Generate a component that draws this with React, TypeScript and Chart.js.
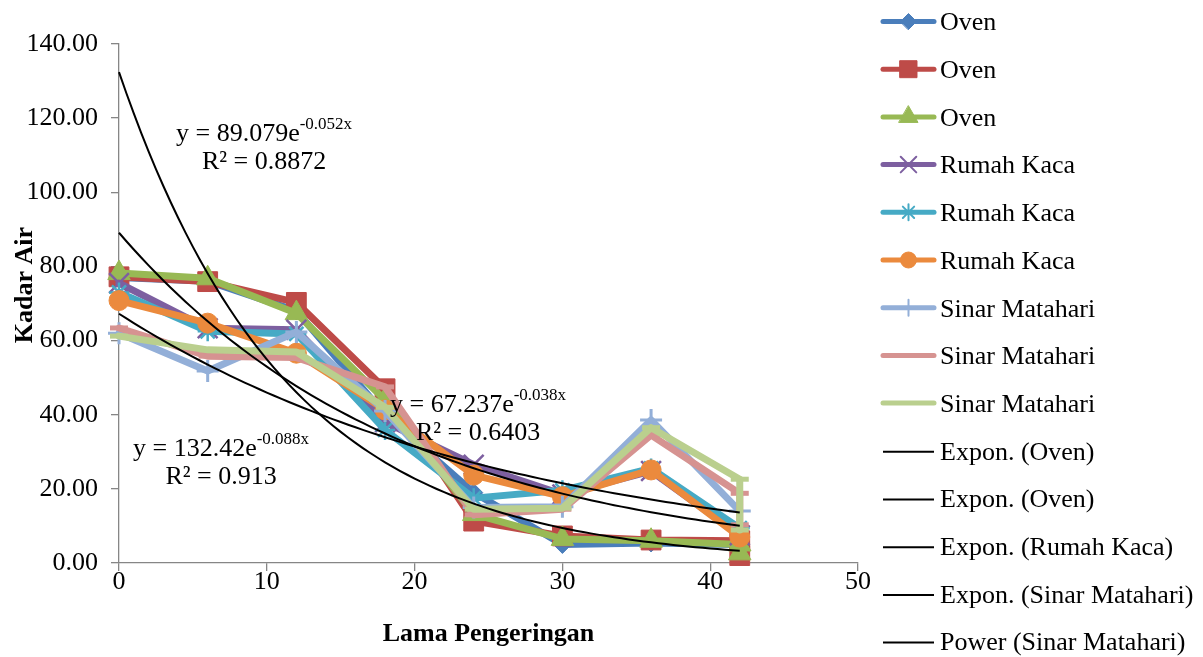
import React, { useEffect, useRef } from 'react';
import { Chart, registerables } from 'chart.js';
import { drawPoint } from 'chart.js/helpers';

Chart.register(...registerables);

// ---------- data ----------
const lamaPengeringan = [0, 6, 12, 18, 24, 30, 36, 42, 42];

const seriesLabels = [
  'Oven', 'Oven', 'Oven',
  'Rumah Kaca', 'Rumah Kaca', 'Rumah Kaca',
  'Sinar Matahari', 'Sinar Matahari', 'Sinar Matahari',
];

const oven1 = [77.0, 76.0, 68.0, 40.0, 19.0, 5.0, 5.4, 5.0, 3.6];
const oven2 = [77.2, 75.9, 70.3, 47.0, 11.3, 7.3, 6.2, 6.0, 2.0];
const oven3 = [78.2, 76.8, 67.4, 44.0, 13.2, 6.5, 6.0, 5.0, 2.6];
const rumahKaca1 = [75.5, 63.3, 62.9, 38.0, 26.5, 18.5, 24.8, 7.5];
const rumahKaca2 = [73.0, 62.5, 61.8, 35.9, 17.5, 19.6, 25.5, 9.4];
const rumahKaca3 = [70.8, 64.7, 56.6, 41.3, 23.7, 17.9, 25.1, 7.0];
const sinarMatahari1 = [62.0, 51.8, 62.3, 41.0, 15.0, 15.2, 38.6, 14.0];
const sinarMatahari2 = [63.4, 55.8, 55.4, 47.5, 13.0, 14.5, 34.5, 18.8, 10.3];
const sinarMatahari3 = [61.2, 57.5, 56.9, 42.0, 14.5, 14.8, 36.5, 22.6, 8.9];

const seriesValues = [oven1, oven2, oven3, rumahKaca1, rumahKaca2, rumahKaca3, sinarMatahari1, sinarMatahari2, sinarMatahari3];

// trendlines (Excel fits: y = a * e^(b x))
const trendLabels = ['Expon. (Oven)', 'Expon. (Oven)', 'Expon. (Rumah Kaca)', 'Expon. (Sinar Matahari)', 'Power (Sinar Matahari)'];
const trendA = [132.42, 89.079, 67.237];
const trendB = [-0.088, -0.052, -0.038];
const trendR2 = ['0.913', '0.8872', '0.6403'];
const trendXMax = 42;

const xTicksMax = 50;
const yTicksMax = 140;

// ---------- styles ----------
const seriesColors = ['#4A7EBB', '#BE4B48', '#98B954', '#7D5FA0', '#46AAC5', '#EB8A3D', '#93AFD8', '#D69391', '#BACF8E'];
const seriesPointStyles = ['rectRot', 'rect', 'triangle', 'crossRot', 'star', 'circle', 'cross', 'line', 'line'];
const seriesPointRadius = [9, 14, 13, 14, 10, 10, 11, 9, 9];
const seriesPointBorder = [1, 1, 1, 2.5, 2.5, 1, 3, 5, 5];
const legendPointRadius = [8, 12, 11, 11, 8, 8, 8, 0, 0];

const FONT = "'Liberation Serif', 'Times New Roman', serif";

// label placement (pixels)
const eqPos = [
  { x: 133, y: 449 },
  { x: 176, y: 134 },
  { x: 390, y: 405 },
];

function buildTrend(a: number, b: number) {
  const pts: { x: number; y: number }[] = [];
  for (let i = 0; i <= trendXMax * 2; i++) {
    const x = i / 2;
    pts.push({ x, y: a * Math.exp(b * x) });
  }
  return pts;
}

const overlayPlugin = {
  id: 'overlay',
  afterDraw(chart: any) {
    const ctx = chart.ctx as CanvasRenderingContext2D;
    ctx.save();
    // ---- legend ----
    const datasets = chart.data.datasets;
    const top = 22.5;
    const step = 47.7;
    datasets.forEach((ds: any, i: number) => {
      const y = top + i * step;
      const isSeries = i < seriesValues.length;
      ctx.beginPath();
      ctx.strokeStyle = ds.borderColor;
      if (isSeries) {
        ctx.lineWidth = 5;
        ctx.lineCap = 'round';
        ctx.moveTo(883, y - 1);
        ctx.lineTo(934, y - 1);
      } else {
        ctx.lineWidth = 2;
        ctx.lineCap = 'butt';
        ctx.moveTo(883, y);
        ctx.lineTo(934, y);
      }
      ctx.stroke();
      if (isSeries && legendPointRadius[i] > 0) {
        ctx.fillStyle = seriesColors[i];
        ctx.strokeStyle = seriesColors[i];
        ctx.lineWidth = Math.min(seriesPointBorder[i], 2);
        drawPoint(ctx, { pointStyle: seriesPointStyles[i], radius: legendPointRadius[i], borderWidth: Math.min(seriesPointBorder[i], 2), rotation: 0 } as any, 908.5, y - 1);
      }
      ctx.fillStyle = '#000';
      ctx.font = `26px ${FONT}`;
      ctx.textAlign = 'left';
      ctx.textBaseline = 'middle';
      ctx.fillText(ds.label, 940, y + 1);
    });

    // ---- axis titles ----
    ctx.fillStyle = '#000';
    ctx.font = `bold 26px ${FONT}`;
    ctx.textAlign = 'center';
    ctx.textBaseline = 'alphabetic';
    const area = chart.chartArea;
    ctx.fillText('Lama Pengeringan', (area.left + area.right) / 2, 641);
    ctx.save();
    ctx.translate(32, 285);
    ctx.rotate(-Math.PI / 2);
    ctx.fillText('Kadar Air', 0, 0);
    ctx.restore();

    // ---- trend equations ----
    trendA.forEach((a, i) => {
      const p = eqPos[i];
      const main = `y = ${a}e`;
      const sup = `${trendB[i]}x`;
      ctx.textAlign = 'left';
      ctx.textBaseline = 'middle';
      ctx.font = `26px ${FONT}`;
      const w1 = ctx.measureText(main).width;
      ctx.fillText(main, p.x, p.y);
      ctx.font = `17px ${FONT}`;
      const w2 = ctx.measureText(sup).width;
      ctx.fillText(sup, p.x + w1, p.y - 9);
      ctx.font = `26px ${FONT}`;
      ctx.textAlign = 'center';
      ctx.fillText(`R\u00B2 = ${trendR2[i]}`, p.x + (w1 + w2) / 2, p.y + 28);
    });
    ctx.restore();
  },
};

export default function App() {
  const ref = useRef<HTMLCanvasElement | null>(null);
  useEffect(() => {
    if (!ref.current) return;
    Chart.defaults.font.family = FONT;
    Chart.defaults.font.size = 26;
    Chart.defaults.color = '#000';

    const seriesDatasets = seriesValues.map((vals, i) => ({
      label: seriesLabels[i],
      data: vals.map((v, j) => ({ x: lamaPengeringan[j], y: v })),
      borderColor: seriesColors[i],
      backgroundColor: seriesColors[i],
      borderWidth: 7,
      borderJoinStyle: 'round' as const,
      borderCapStyle: 'round' as const,
      pointStyle: seriesPointStyles[i],
      pointRadius: seriesPointRadius[i],
      pointBorderWidth: seriesPointBorder[i],
      pointBackgroundColor: seriesColors[i],
      pointBorderColor: seriesColors[i],
      tension: 0,
      clip: false as any,
      order: 100 - i,
    }));
    const trendDatasets = trendLabels.map((lab, i) => ({
      label: lab,
      data: i < trendA.length ? buildTrend(trendA[i], trendB[i]) : [],
      borderColor: '#000',
      backgroundColor: '#000',
      borderWidth: 2,
      pointRadius: 0,
      tension: 0,
      clip: false as any,
      order: 5 - i,
    }));

    const chart = new Chart(ref.current, {
      type: 'line',
      data: { datasets: [...seriesDatasets, ...trendDatasets] as any },
      options: {
        animation: false,
        responsive: false,
        maintainAspectRatio: false,
        layout: { padding: { left: 0, top: 44, right: 345, bottom: 0 } },
        plugins: { legend: { display: false }, tooltip: { enabled: false } },
        scales: {
          x: {
            type: 'linear',
            min: 0,
            max: xTicksMax,
            ticks: { stepSize: 10, padding: -4, color: '#000', font: { size: 26, family: FONT } },
            grid: { drawOnChartArea: false, drawTicks: true, tickLength: 8, color: '#868686', lineWidth: 1.3 },
            border: { color: '#868686', width: 1.3 },
            afterFit: (s: any) => { s.height = 94; },
          },
          y: {
            type: 'linear',
            min: 0,
            max: yTicksMax,
            ticks: { stepSize: 20, padding: 13, color: '#000', font: { size: 26, family: FONT }, callback: (v: any) => Number(v).toFixed(2) },
            grid: { drawOnChartArea: false, drawTicks: true, tickLength: 8, color: '#868686', lineWidth: 1.3 },
            border: { color: '#868686', width: 1.3 },
            afterFit: (s: any) => { s.width = 119; },
          },
        },
      },
      plugins: [overlayPlugin],
    } as any);
    return () => chart.destroy();
  }, []);

  return (
    <div style={{ position: 'absolute', left: 0, top: 0, width: 1203, height: 657, background: '#fff' }}>
      <canvas ref={ref} width={1203} height={657} style={{ display: 'block', width: 1203, height: 657 }} />
    </div>
  );
}
